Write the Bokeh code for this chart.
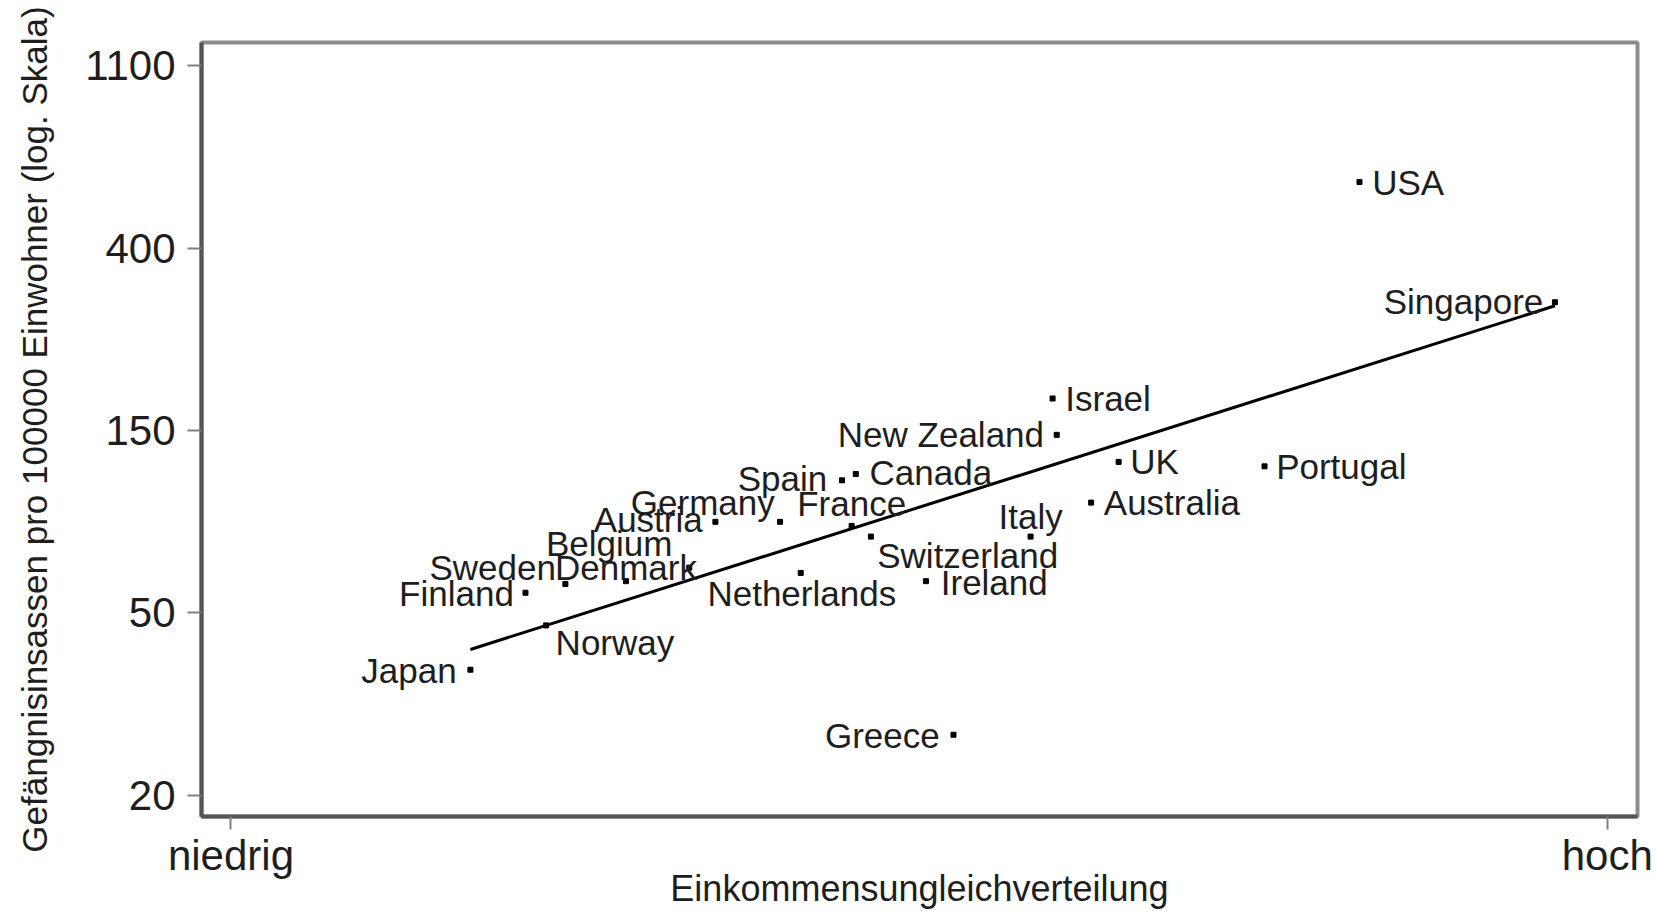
import numpy as np
from bokeh.plotting import figure
from bokeh.models import ColumnDataSource, FixedTicker, Range1d
from bokeh.embed import file_html
from bokeh.resources import INLINE
from bokeh.core.properties import value

# ---------------- data ----------------
countries = ["Japan", "Norway", "Finland", "Sweden", "Denmark", "Belgium",
             "Austria", "Germany", "France", "Spain", "Canada", "Netherlands",
             "Switzerland", "Ireland", "Greece", "Italy", "New Zealand",
             "Israel", "UK", "Australia", "Portugal", "USA", "Singapore"]
# income inequality index (0 = niedrig, 100 = hoch)
inequality = [17.4, 22.9, 21.4, 24.3, 28.7, 33.3,
              35.2, 39.9, 45.1, 44.4, 45.4, 41.4,
              46.5, 50.5, 52.5, 58.1, 60.0,
              59.7, 64.5, 62.5, 75.1, 82.0, 96.2]
# prisoners per 100000 inhabitants
prisoners = [40, 51, 61, 64, 65, 70,
             90, 90, 88, 113, 117, 68,
             83, 65, 28, 83, 145,
             177, 125, 100, 122, 580, 300]

y_tick_values = [float(np.exp(k)) for k in range(3, 8)]
y_tick_labels = ["20", "50", "150", "400", "1100"]
x_tick_values = [0, 100]
x_tick_labels = ["niedrig", "hoch"]

# ---------------- label placement (style) ----------------
S = 1.056
label_style = {
    "USA": ("left", 12, 0), "Singapore": ("right", -11, -1),
    "Israel": ("left", 12, 0), "New Zealand": ("right", -12, 0),
    "UK": ("left", 11, 0), "Portugal": ("left", 11, 0),
    "Australia": ("left", 12, 0), "Italy": ("center", 0, -19),
    "Canada": ("left", 13, -1), "Spain": ("right", -14, -2),
    "France": ("center", 0, -21), "Germany": ("right", -5, -18),
    "Austria": ("right", -12, -2), "Belgium": ("right", -16, -23),
    "Denmark": ("center", 0, -13), "Sweden": ("right", -9, -16),
    "Finland": ("right", -11, 1), "Norway": ("left", 9, 16),
    "Japan": ("right", -13, 1), "Netherlands": ("center", 1, 19),
    "Switzerland": ("left", 6, 18), "Ireland": ("left", 14, 1),
    "Greece": ("right", -13, 1),
}

src = ColumnDataSource(dict(
    x=inequality, y=prisoners, name=countries,
    align=[label_style[c][0] for c in countries],
    xo=[label_style[c][1] * S for c in countries],
    yo=[label_style[c][2] * S for c in countries],
))

# ---------------- figure ----------------
ln_lo, ln_hi = 2.884, 7.128
p = figure(width=1656, height=912, y_axis_type="log",
           x_range=Range1d(-2.14, 102.2),
           y_range=Range1d(float(np.exp(ln_lo)), float(np.exp(ln_hi))),
           output_backend="svg", toolbar_location=None,
           min_border_left=201, min_border_right=19,
           min_border_top=42, min_border_bottom=96)

p.background_fill_color = "white"
p.border_fill_color = "white"
p.xgrid.visible = False
p.ygrid.visible = False
p.outline_line_color = "#8c8c8c"
p.outline_line_width = 4

FONT = "Liberation Sans"
TXT = "#1e1e1e"

# y axis
p.yaxis.ticker = FixedTicker(ticks=y_tick_values)
p.yaxis.major_label_overrides = {v: l for v, l in zip(y_tick_values, y_tick_labels)}
p.yaxis.minor_tick_line_color = None
p.yaxis.major_tick_out = 14
p.yaxis.major_tick_in = 0
p.yaxis.major_tick_line_color = "#808080"
p.yaxis.major_tick_line_width = 2
p.yaxis.major_label_standoff = 12
p.yaxis.major_label_text_font = FONT
p.yaxis.major_label_text_font_size = "42px"
p.yaxis.major_label_text_color = TXT
p.yaxis.axis_line_color = "#555555"
p.yaxis.axis_line_width = 4
p.yaxis.axis_label = "Gefängnisinsassen pro 100000 Einwohner (log. Skala)"
p.yaxis.axis_label_text_font = FONT
p.yaxis.axis_label_text_font_style = "normal"
p.yaxis.axis_label_text_font_size = "35px"
p.yaxis.axis_label_text_color = TXT
p.yaxis.axis_label_standoff = 28

# x axis
p.xaxis.ticker = FixedTicker(ticks=x_tick_values)
p.xaxis.major_label_overrides = {v: l for v, l in zip(x_tick_values, x_tick_labels)}
p.xaxis.minor_tick_line_color = None
p.xaxis.major_tick_out = 13
p.xaxis.major_tick_in = 0
p.xaxis.major_tick_line_color = "#808080"
p.xaxis.major_tick_line_width = 2
p.xaxis.major_label_standoff = 2
p.xaxis.major_label_text_font = FONT
p.xaxis.major_label_text_font_size = "42px"
p.xaxis.major_label_text_color = TXT
p.xaxis.axis_line_color = "#555555"
p.xaxis.axis_line_width = 4
p.xaxis.axis_label = "Einkommensungleichverteilung"
p.xaxis.axis_label_text_font = FONT
p.xaxis.axis_label_text_font_style = "normal"
p.xaxis.axis_label_text_font_size = "36px"
p.xaxis.axis_label_text_color = TXT
p.xaxis.axis_label_standoff = -14

# regression line: OLS fit of log(prisoners) on inequality
b, a = np.polyfit(np.array(inequality), np.log(np.array(prisoners, dtype=float)), 1)
xs = np.array([min(inequality), max(inequality)])
p.line(xs, np.exp(a + b * xs), line_color="black", line_width=3)

# points
p.scatter("x", "y", source=src, marker="square", size=5, color="black")

# labels
p.text("x", "y", text="name", source=src, text_align="align",
       text_baseline="middle", x_offset="xo", y_offset="yo",
       text_font=value(FONT), text_font_size="35px", text_color=TXT)

open("out.html", "w").write(file_html(p, INLINE))
